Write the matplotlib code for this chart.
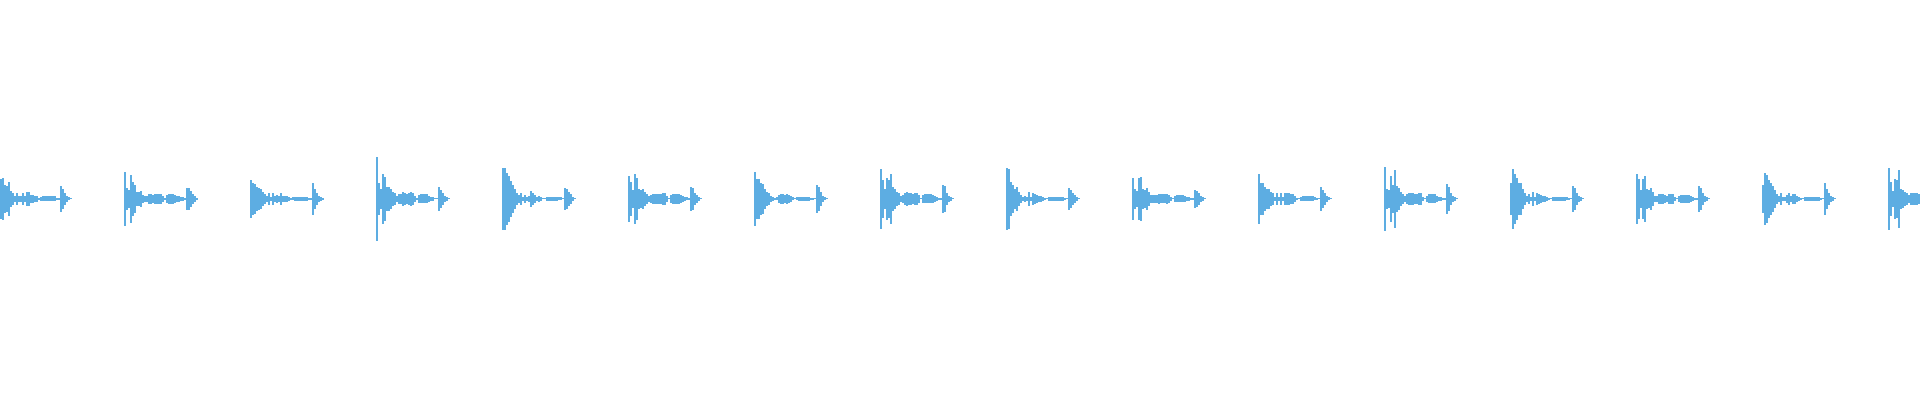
import matplotlib
matplotlib.use("Agg")
import matplotlib.pyplot as plt
import numpy as np

# drum loop waveform, 16 hits, amplitude read per 2-sample column (symmetric)
onsets = [-2, 124, 250, 376, 502, 628, 754, 880, 1006, 1132, 1258, 1384, 1510, 1636, 1762, 1888]
col_width = 2

hit_01 = [20, 20, 21, 14, 13, 17, 8, 6, 3, 6, 3, 3, 6, 3, 7, 7, 4, 4, 3, 3, 1, 2,
          2.5, 2.5, 2.5, 2.5, 2.5, 2.5, 2.5, 1, 1, 13, 10, 6, 3, 1.5, 0.5]
hit_02 = [27, 11, 9, 24, 17, 14, 7, 7, 8, 4, 3, 3, 5, 5, 4, 5, 5, 5, 5, 3, 1, 4,
          5, 5, 5, 4, 3, 3, 2, 2, 1, 11, 11, 8, 5, 3, 1]
hit_03 = [19, 16, 15, 12, 11, 10, 7, 5, 3, 6, 2, 6, 3, 4, 3, 6, 3, 3, 3, 2, 1, 1.5,
          2, 2, 2, 2, 2, 2, 2, 1, 1, 16, 10, 6, 3, 2, 1]
hit_04 = [42, 16, 10, 25, 22, 12, 12, 10, 7, 6, 3, 5, 5, 7, 6, 5, 6, 7, 6, 3, 1, 4,
          4.5, 4.5, 4.5, 4.5, 3, 2, 2, 0.5, 0.5, 12, 9, 6, 3, 2, 0.5]
hit_05 = [31, 31, 26, 23, 18, 14, 10, 6, 4, 6, 2, 4, 2, 3, 8, 6, 4, 2, 3, 2, 0.5, 0.5,
          2, 2, 2, 2, 2, 2, 1.5, 1.5, 0.5, 11, 10, 7, 5, 2, 0.5]
hit_06 = [23, 17, 9, 25, 21, 10, 9, 10, 7, 5, 3, 4, 5, 5, 5, 5, 5, 6, 6, 3, 0.5, 4,
          5, 5, 5, 5, 4, 3, 2, 1.5, 1, 12, 11, 6, 4, 2, 0.5]
hit_07 = [27, 20, 20, 16, 15, 10, 7, 6, 3, 2, 1, 1.5, 4, 5, 5, 4, 5, 4, 3, 1.5, 0.5, 1.5,
          2, 2, 2, 2, 2, 2, 1, 1, 0.5, 14, 12, 7, 3, 1.5, 0.5]
hit_08 = [30, 19, 10, 21, 19, 25, 12, 10, 7, 6, 3, 4, 6, 7, 6, 6, 5, 6, 6, 4, 0.5, 4,
          4.5, 4.5, 4.5, 4.5, 4, 3, 2, 1, 1, 14, 13, 6, 3, 2, 0.5]
hit_09 = [31, 30, 17, 14, 10, 12, 7, 4, 2, 3, 2, 7, 2, 6, 5, 4, 3, 3, 2, 1, 0.5, 2,
          2, 2, 2, 2, 2, 2, 2, 1, 0.5, 11, 9, 6, 4, 2, 0.5]
hit_10 = [21, 10, 8, 21, 22, 10, 9, 11, 7, 4, 4, 4, 4, 5, 4.5, 4.5, 4.5, 5, 4, 2, 0.5, 3,
          3.5, 3.5, 3.5, 3.5, 3, 2, 2, 1, 1, 9, 8, 6, 3, 2, 0.5]
hit_11 = [25, 16, 16, 12, 10, 10, 7, 6, 2, 6, 2, 6, 2, 6, 6, 6, 5, 5, 3, 1, 0.5, 2,
          2.5, 2.5, 2.5, 2.5, 2.5, 2.5, 1.5, 1, 0.5, 12, 9, 6, 3, 1.5, 0.5]
hit_12 = [32, 10, 9, 23, 14, 29, 13, 11, 7, 5, 3, 5, 6, 6, 6, 5, 5, 6, 6, 2, 0.5, 3,
          4.5, 4.5, 4.5, 4.5, 3, 2, 2, 1, 1, 15, 12, 6, 3, 2, 0.5]
hit_13 = [16, 30, 25, 21, 16, 16, 10, 6, 3, 5, 2, 7, 2, 6, 5, 4, 3, 3, 2, 1, 0.5, 2,
          2, 2, 2, 2, 2, 2, 1.5, 1, 0.5, 13, 11, 6, 3, 2, 0.5]
hit_14 = [25, 20, 9, 20, 23, 10, 9, 11, 7, 3, 3, 5, 5, 5, 4, 3, 5, 5, 5, 2, 0.5, 3,
          4, 4, 4, 4, 4, 3, 2, 1, 1, 13, 11, 6, 3, 2, 0.5]
hit_15 = [14, 26, 24, 19, 16, 13, 9, 5, 3, 6, 2, 2, 4, 6, 3, 5, 5, 3, 2, 1, 0.5, 2,
          2, 2, 2, 2, 2, 2, 2, 1, 0.5, 16, 10, 6, 3, 2, 0.5]
hit_16 = [31, 17, 8, 20, 19, 29, 10, 9, 7, 6, 4, 6, 6, 6, 6, 5]

hits = [hit_01, hit_02, hit_03, hit_04, hit_05, hit_06, hit_07, hit_08,
        hit_09, hit_10, hit_11, hit_12, hit_13, hit_14, hit_15, hit_16]

wave_color = "#5dade2"

fig = plt.figure(figsize=(19.2, 4), dpi=100)
ax = fig.add_axes([0, 0, 1, 1])

for start, amp in zip(onsets, hits):
    amp = np.array(amp, dtype=float)
    edges = start + col_width * np.arange(len(amp) + 1)
    ax.stairs(amp, edges, baseline=-amp, fill=True, color=wave_color,
              linewidth=0, antialiased=False)

ax.set_xlim(0, 1920)
ax.set_ylim(-201, 199)
ax.axis("off")

fig.savefig("out.png", dpi=100, facecolor="white")
